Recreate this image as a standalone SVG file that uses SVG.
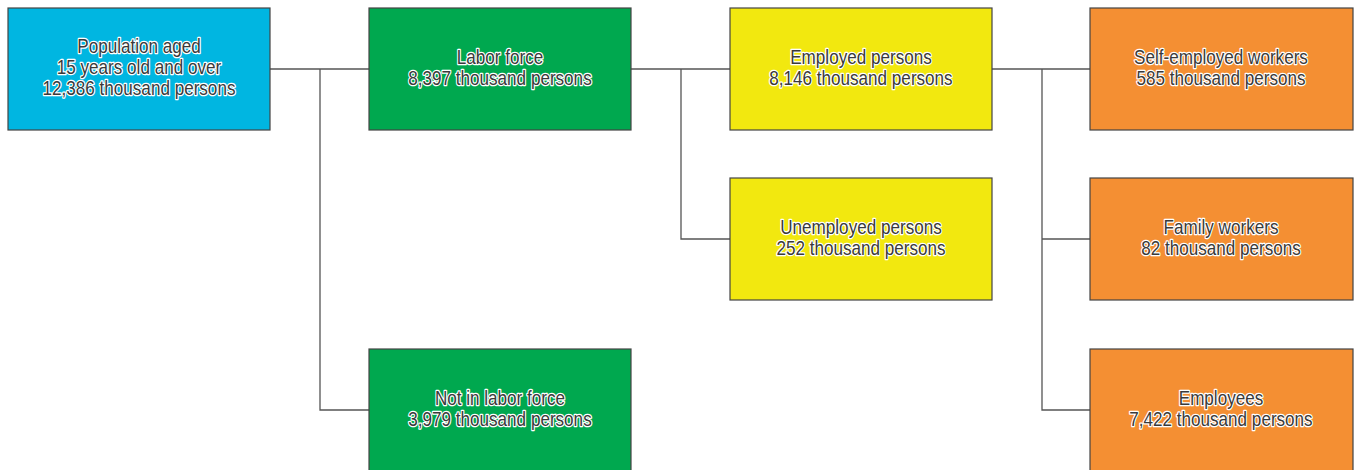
<svg xmlns="http://www.w3.org/2000/svg" width="1357" height="470" viewBox="0 0 1357 470">
<style>
.box{stroke:#444;stroke-width:1.2}
.blue{fill:#00b6e1}
.green{fill:#00a84f}
.yellow{fill:#f2e80f}
.orange{fill:#f48f33}
.t{font-family:"Liberation Sans",Arial,sans-serif;font-size:20px;fill:#3a3a3a;stroke:#fff;stroke-width:2.5;stroke-linejoin:round;paint-order:stroke;text-anchor:middle}
.c{fill:none;stroke:#555;stroke-width:1.3}
</style>
<rect width="1357" height="470" fill="#fff"/>
<g id="connectors">
<path class="c" d="M270 69H369M320 69V410H369"/>
<path class="c" d="M631 69H730M681 69V239H730"/>
<path class="c" d="M992 69H1090M1042 69V410H1090M1042 239H1090"/>
</g>
<g id="population">
<rect class="box blue" x="8" y="8" width="262" height="122"/>
<g transform="matrix(0.855 0 0 1 20.155 0)">
<text class="t" x="139" y="53">Population aged</text>
<text class="t" x="139" y="74">15 years old and over</text>
<text class="t" x="139" y="95">12,386 thousand persons</text>
</g>
</g>
<g id="labor-force">
<rect class="box green" x="369" y="8" width="262" height="122"/>
<g transform="matrix(0.855 0 0 1 72.5 0)">
<text class="t" x="500" y="64">Labor force</text>
<text class="t" x="500" y="85">8,397 thousand persons</text>
</g>
</g>
<g id="not-labor-force">
<rect class="box green" x="369" y="349" width="262" height="122"/>
<g transform="matrix(0.855 0 0 1 72.5 0)">
<text class="t" x="500" y="405">Not in labor force</text>
<text class="t" x="500" y="426">3,979 thousand persons</text>
</g>
</g>
<g id="employed">
<rect class="box yellow" x="730" y="8" width="262" height="122"/>
<g transform="matrix(0.855 0 0 1 124.845 0)">
<text class="t" x="861" y="64">Employed persons</text>
<text class="t" x="861" y="85">8,146 thousand persons</text>
</g>
</g>
<g id="unemployed">
<rect class="box yellow" x="730" y="178" width="262" height="122"/>
<g transform="matrix(0.855 0 0 1 124.845 0)">
<text class="t" x="861" y="234">Unemployed persons</text>
<text class="t" x="861" y="255">252 thousand persons</text>
</g>
</g>
<g id="self-employed">
<rect class="box orange" x="1090" y="8" width="263" height="122"/>
<g transform="matrix(0.855 0 0 1 177.045 0)">
<text class="t" x="1221" y="64">Self-employed workers</text>
<text class="t" x="1221" y="85">585 thousand persons</text>
</g>
</g>
<g id="family-workers">
<rect class="box orange" x="1090" y="178" width="263" height="122"/>
<g transform="matrix(0.855 0 0 1 177.045 0)">
<text class="t" x="1221" y="234">Family workers</text>
<text class="t" x="1221" y="255">82 thousand persons</text>
</g>
</g>
<g id="employees">
<rect class="box orange" x="1090" y="349" width="263" height="122"/>
<g transform="matrix(0.855 0 0 1 177.045 0)">
<text class="t" x="1221" y="405">Employees</text>
<text class="t" x="1221" y="426">7,422 thousand persons</text>
</g>
</g>
</svg>
